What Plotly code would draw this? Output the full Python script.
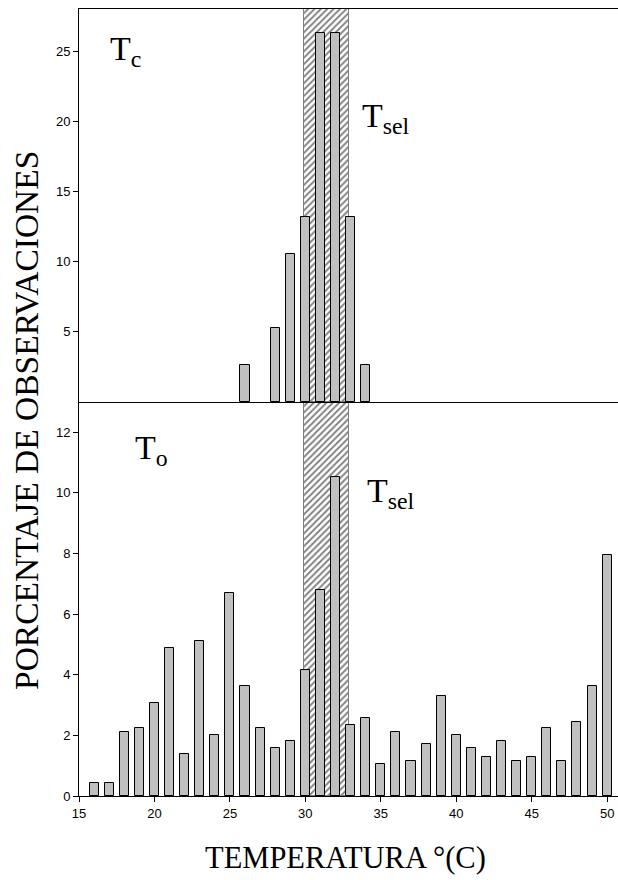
import plotly.graph_objects as go

# ---- data ----
temps_top = [26, 28, 29, 30, 31, 32, 33, 34]
pct_top = [2.63, 5.26, 10.53, 13.16, 26.32, 26.32, 13.16, 2.63]

temps_bottom = list(range(16, 51))
pct_bottom = [0.42, 0.42, 2.12, 2.24, 3.08, 4.89, 1.37, 5.11, 2.01, 6.70,
              3.62, 2.24, 1.59, 1.80, 4.16, 6.80, 10.52, 2.34, 2.56, 1.06,
              2.12, 1.17, 1.70, 3.30, 2.01, 1.59, 1.28, 1.80, 1.17, 1.28,
              2.24, 1.17, 2.44, 3.62, 7.96]

tsel_low, tsel_high = 29.9, 32.9
top_max, bottom_max = 28, 13
x_range = [15, 50.72]
x_ticks = [15, 20, 25, 30, 35, 40, 45, 50]
top_ticks = [5, 10, 15, 20, 25]
bottom_ticks = [0, 2, 4, 6, 8, 10, 12]

SERIF = "Liberation Serif"
SANS = "Liberation Sans"

fig = go.Figure()

hatch = dict(color="white",
             pattern=dict(shape="/", fgcolor="black", bgcolor="white", size=4.5, solidity=0.4),
             line=dict(color="#7f7f7f", width=1))
bar_style = dict(color="#c0c0c0", line=dict(color="black", width=1))

# top panel
fig.add_trace(go.Bar(x=[(tsel_low + tsel_high) / 2], y=[top_max], width=[tsel_high - tsel_low],
                     marker=hatch, xaxis="x2", yaxis="y", showlegend=False, hoverinfo="skip"))
fig.add_trace(go.Bar(x=temps_top, y=pct_top, width=0.6, marker=bar_style,
                     xaxis="x2", yaxis="y", showlegend=False))
# bottom panel
fig.add_trace(go.Bar(x=[(tsel_low + tsel_high) / 2], y=[bottom_max], width=[tsel_high - tsel_low],
                     marker=hatch, xaxis="x", yaxis="y2", showlegend=False, hoverinfo="skip"))
fig.add_trace(go.Bar(x=temps_bottom, y=pct_bottom, width=0.6, marker=bar_style,
                     xaxis="x", yaxis="y2", showlegend=False))

split = (796 - 402) / 787
tickfont = dict(family=SANS, size=13, color="black")

fig.update_layout(
    width=618, height=880,
    margin=dict(l=79, r=0, t=9, b=84),
    paper_bgcolor="white", plot_bgcolor="white",
    barmode="overlay", bargap=0,
    xaxis=dict(domain=[0, 1], anchor="y2", range=x_range, tickvals=x_ticks,
               ticks="outside", ticklen=5, tickcolor="black", showline=True,
               linecolor="black", linewidth=1, showgrid=False, zeroline=False,
               tickfont=tickfont),
    xaxis2=dict(domain=[0, 1], anchor="y", range=x_range, matches="x",
                showticklabels=False, ticks="", showline=True, mirror=True,
                linecolor="black", linewidth=1, showgrid=False, zeroline=False),
    yaxis=dict(domain=[split, 1], anchor="x2", range=[0, top_max], tickvals=top_ticks,
               ticks="outside", ticklen=5, tickcolor="black", showline=True,
               linecolor="black", linewidth=1, showgrid=False, zeroline=False,
               tickfont=tickfont),
    yaxis2=dict(domain=[0, split], anchor="x", range=[0, bottom_max], tickvals=bottom_ticks,
                ticks="outside", ticklen=5, tickcolor="black", showline=True,
                linecolor="black", linewidth=1, showgrid=False, zeroline=False,
                tickfont=tickfont),
)

lab_font = dict(family=SERIF, size=34, color="black")
fig.add_annotation(text="T<sub>c</sub>", x=16.95, y=25.0, xref="x2", yref="y",
                   xanchor="left", yanchor="middle", showarrow=False, font=lab_font)
fig.add_annotation(text="T<sub>sel</sub>", x=33.6, y=20.2, xref="x2", yref="y",
                   xanchor="left", yanchor="middle", showarrow=False, font=lab_font)
fig.add_annotation(text="T<sub>o</sub>", x=18.6, y=11.43, xref="x", yref="y2",
                   xanchor="left", yanchor="middle", showarrow=False, font=lab_font)
fig.add_annotation(text="T<sub>sel</sub>", x=33.95, y=10.0, xref="x", yref="y2",
                   xanchor="left", yanchor="middle", showarrow=False, font=lab_font)

fig.add_annotation(text="PORCENTAJE DE OBSERVACIONES", textangle=-90,
                   x=(27 - 79) / 539, y=(796 - 421) / 787, xref="paper", yref="paper",
                   xanchor="center", yanchor="middle", showarrow=False,
                   font=dict(family=SERIF, size=33.5, color="black"))
fig.add_annotation(text="TEMPERATURA °(C)",
                   x=(345 - 79) / 539, y=(796 - 858) / 787, xref="paper", yref="paper",
                   xanchor="center", yanchor="middle", showarrow=False,
                   font=dict(family=SERIF, size=30.5, color="black"))

fig.write_html("out.html")
